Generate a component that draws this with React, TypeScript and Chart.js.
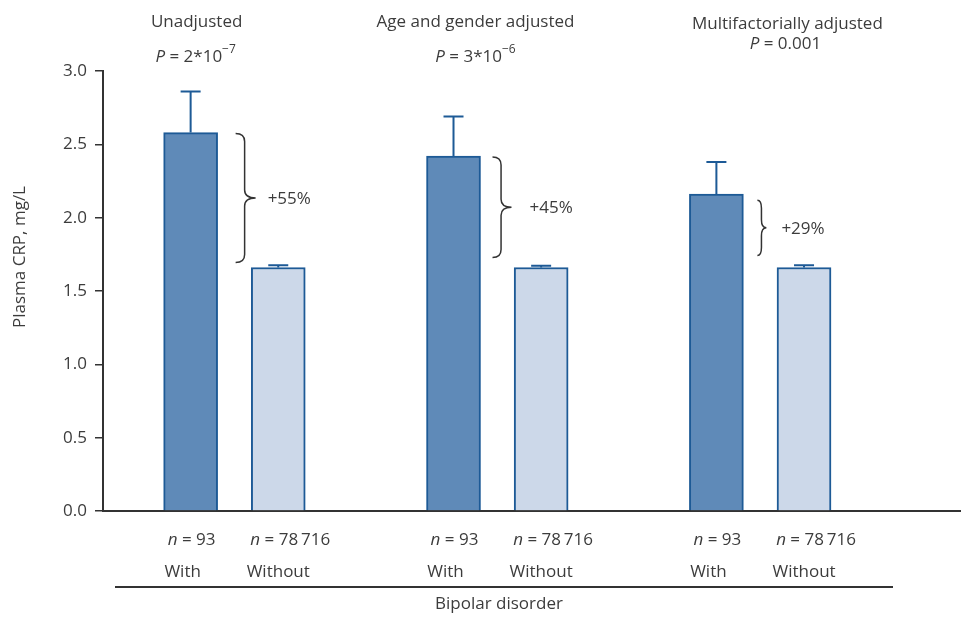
import React, { useEffect, useRef } from "react";
import { Chart, registerables } from "chart.js";

Chart.register(...registerables);

// ---------- data ----------
const categories = ["With", "Without"];
const groupTitles = ["Unadjusted", "Age and gender adjusted", "Multifactorially adjusted"];
const pValueBase = ["2*10", "3*10", "0.001"];
const pValueExp = ["\u22127", "\u22126", ""];
const withValues = [2.58, 2.42, 2.16];
const withUpper = [2.86, 2.69, 2.38];
const withoutValues = [1.66, 1.66, 1.66];
const withoutUpper = [1.675, 1.672, 1.675];
const nWith = ["93", "93", "93"];
const nWithout = ["78\u2009716", "78\u2009716", "78\u2009716"];
const pctLabels = ["+55%", "+45%", "+29%"];
const yTickMin = 0;
const yTickMax = 3;
const yTickStep = 0.5;
const yTitle = "Plasma CRP, mg/L";
const xTitle = "Bipolar disorder";

// ---------- layout / style ----------
const FONT = "'Open Sans', 'DejaVu Sans', sans-serif";
const FS = 17;
const TEXT = "#3c3c3c";
const AXIS = "#333333";
const DARK_FILL = "#5f8ab8";
const LIGHT_FILL = "#ccd8e9";
const EDGE = "#1d5a96";
const X_MAX = 9.78;
const titleOffset = [6, 22, 71];
const titleY = [22, 22, 24];
const pY = [57, 57, 44];
const pOffset = [5, 22, 69];
const braceGap = [18, 12, 14];
const braceWidth = [20, 19, 9];
const braceInsetTop = [1, 1, 6];
const braceInsetBottom = [5, 10, 12];
const pctGap = [12, 18, 15];
const EQ = " = ";

type Part = { t: string; italic?: boolean; sup?: boolean };

function drawRich(ctx: CanvasRenderingContext2D, parts: Part[], cx: number, cy: number, size: number, align: "center" | "left" = "center") {
  const fontFor = (p: Part) => `${p.italic ? "italic " : ""}${p.sup ? Math.round(size * 0.72) : size}px ${FONT}`;
  let total = 0;
  const widths = parts.map((p) => {
    ctx.font = fontFor(p);
    const w = ctx.measureText(p.t).width;
    total += w;
    return w;
  });
  let x = align === "center" ? cx - total / 2 : cx;
  ctx.textAlign = "left";
  ctx.textBaseline = "middle";
  ctx.fillStyle = TEXT;
  parts.forEach((p, i) => {
    ctx.font = fontFor(p);
    ctx.fillText(p.t, x, p.sup ? cy - size * 0.45 : cy);
    x += widths[i];
  });
}

const slot = (g: number, b: number) => g * 3 + 1 + b;

const annotationPlugin = {
  id: "annotations",
  afterDatasetsDraw(chart: any) {
    const ctx: CanvasRenderingContext2D = chart.ctx;
    const y = chart.scales.y;
    const uppers = [withUpper, withoutUpper];
    chart.data.datasets.forEach((_: any, di: number) => {
      const meta = chart.getDatasetMeta(di);
      meta.data.forEach((bar: any, i: number) => {
        const top = y.getPixelForValue(uppers[di][i]);
        ctx.save();
        ctx.strokeStyle = EDGE;
        ctx.lineWidth = 2;
        ctx.beginPath();
        ctx.moveTo(bar.x, bar.y);
        ctx.lineTo(bar.x, top);
        ctx.moveTo(bar.x - 10, top);
        ctx.lineTo(bar.x + 10, top);
        ctx.stroke();
        ctx.restore();
      });
    });
  },
  afterDraw(chart: any) {
    const ctx: CanvasRenderingContext2D = chart.ctx;
    const y = chart.scales.y;
    const x = chart.scales.x;
    ctx.save();
    groupTitles.forEach((title, g) => {
      const wx = x.getPixelForValue(slot(g, 0));
      const wox = x.getPixelForValue(slot(g, 1));
      drawRich(ctx, [{ t: title }], wx + titleOffset[g], titleY[g], FS);
      const pParts: Part[] = [{ t: "P", italic: true }, { t: EQ + pValueBase[g] }];
      if (pValueExp[g]) pParts.push({ t: pValueExp[g], sup: true });
      drawRich(ctx, pParts, wx + pOffset[g], pY[g], FS);
      // brace
      const halfBar = 27;
      const x0 = wx + halfBar + braceGap[g];
      const w = braceWidth[g];
      const yTop = y.getPixelForValue(withValues[g]) + braceInsetTop[g];
      const yBot = y.getPixelForValue(withoutValues[g]) - braceInsetBottom[g];
      const yMid = (yTop + yBot) / 2;
      const sx = x0 + w * 0.45;
      const r = Math.min(8, (yBot - yTop) / 6);
      ctx.strokeStyle = AXIS;
      ctx.lineWidth = 1.5;
      ctx.beginPath();
      ctx.moveTo(x0, yTop);
      ctx.quadraticCurveTo(sx, yTop, sx, yTop + r);
      ctx.lineTo(sx, yMid - r);
      ctx.quadraticCurveTo(sx, yMid, x0 + w, yMid);
      ctx.quadraticCurveTo(sx, yMid, sx, yMid + r);
      ctx.lineTo(sx, yBot - r);
      ctx.quadraticCurveTo(sx, yBot, x0, yBot);
      ctx.stroke();
      drawRich(ctx, [{ t: pctLabels[g] }], x0 + w + pctGap[g], yMid + 1, FS, "left");
      // n labels
      drawRich(ctx, [{ t: "n", italic: true }, { t: EQ + nWith[g] }], wx + 1, 540, FS);
      drawRich(ctx, [{ t: "n", italic: true }, { t: EQ + nWithout[g] }], wox + 12, 540, FS);
      // category labels
      drawRich(ctx, [{ t: categories[0] }], wx - 8, 572, FS);
      drawRich(ctx, [{ t: categories[1] }], wox, 572, FS);
    });
    ctx.strokeStyle = AXIS;
    ctx.lineWidth = 2;
    ctx.beginPath();
    ctx.moveTo(115, 587);
    ctx.lineTo(893, 587);
    ctx.stroke();
    drawRich(ctx, [{ t: xTitle }], 499, 604, FS);
    ctx.translate(20, 257);
    ctx.rotate(-Math.PI / 2);
    drawRich(ctx, [{ t: yTitle }], 0, 0, FS);
    ctx.restore();
  },
};

export default function App() {
  const ref = useRef<HTMLCanvasElement | null>(null);
  useEffect(() => {
    document.body.style.margin = "0";
    if (!ref.current) return;
    const chart = new Chart(ref.current, {
      type: "bar",
      data: {
        datasets: [
          {
            label: categories[0],
            data: withValues.map((v, g) => ({ x: slot(g, 0), y: v })),
            backgroundColor: DARK_FILL,
            borderColor: EDGE,
            borderWidth: 2,
            barThickness: 54,
            grouped: false,
          } as any,
          {
            label: categories[1],
            data: withoutValues.map((v, g) => ({ x: slot(g, 1), y: v })),
            backgroundColor: LIGHT_FILL,
            borderColor: EDGE,
            borderWidth: 2,
            barThickness: 54,
            grouped: false,
          } as any,
        ],
      },
      options: {
        animation: false,
        responsive: false,
        devicePixelRatio: 1,
        layout: { padding: { top: 71, right: 1, bottom: 108, left: 0 } },
        plugins: { legend: { display: false }, tooltip: { enabled: false } },
        scales: {
          x: {
            type: "linear",
            offset: false,
            min: 0,
            max: X_MAX,
            ticks: { display: false },
            grid: { display: false, offset: false },
            border: { display: true, color: AXIS, width: 2 },
            afterFit: (s: any) => {
              s.height = 0;
            },
          },
          y: {
            min: yTickMin,
            max: yTickMax,
            ticks: {
              stepSize: yTickStep,
              callback: (v: any) => Number(v).toFixed(1),
              font: { family: FONT, size: FS },
              color: TEXT,
              padding: 8,
            },
            grid: { drawOnChartArea: false, drawTicks: true, tickLength: 8, color: AXIS, lineWidth: 1.5 },
            border: { display: true, color: AXIS, width: 2 },
            afterFit: (s: any) => {
              s.width = 103;
            },
          },
        },
      } as any,
      plugins: [annotationPlugin],
    });
    return () => chart.destroy();
  }, []);
  return <canvas ref={ref} width={961} height={619} style={{ display: "block" }} />;
}
